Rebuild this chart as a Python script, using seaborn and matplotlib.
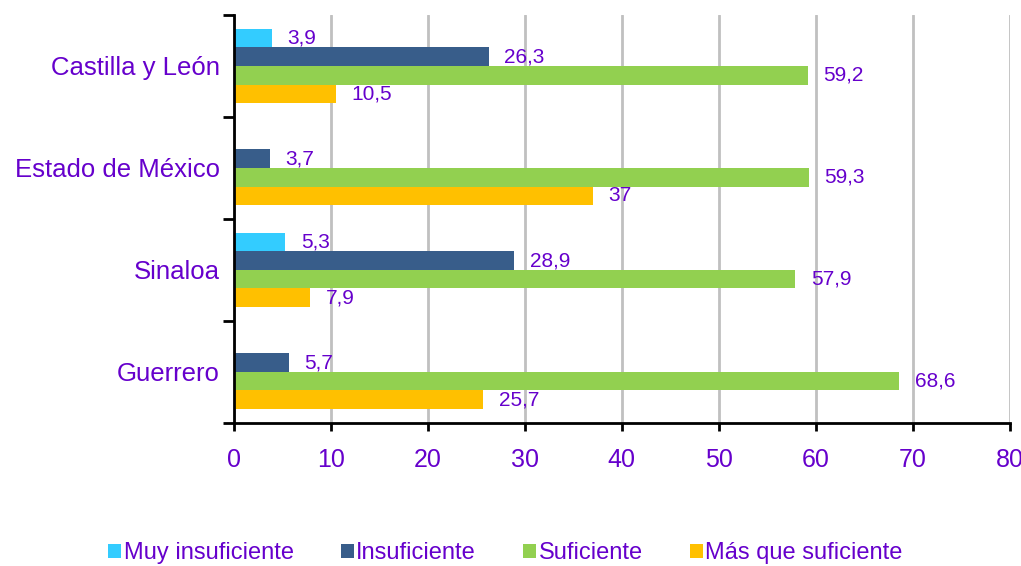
import numpy as np
import pandas as pd
import matplotlib
matplotlib.use("Agg")
import matplotlib.pyplot as plt
import seaborn as sns

# Datos
regiones = ["Castilla y León", "Estado de México", "Sinaloa", "Guerrero"]
series = ["Muy insuficiente", "Insuficiente", "Suficiente", "Más que suficiente"]
muy_insuficiente = [3.9, np.nan, 5.3, np.nan]
insuficiente = [26.3, 3.7, 28.9, 5.7]
suficiente = [59.2, 59.3, 57.9, 68.6]
mas_que_suficiente = [10.5, 37, 7.9, 25.7]
colores = ["#33CCFF", "#385D8A", "#92D050", "#FFC000"]
texto = "#6600CC"

df = pd.DataFrame({
    "region": regiones * 4,
    "serie": [s for s in series for _ in regiones],
    "valor": muy_insuficiente + insuficiente + suficiente + mas_que_suficiente,
})

sns.set_style("white")
plt.rcParams["font.family"] = ["Liberation Sans", "DejaVu Sans"]

fig = plt.figure(figsize=(10.21, 5.66), dpi=100)
ax = fig.add_axes([0.229, 0.253, 0.76, 0.7205])

sns.barplot(data=df, y="region", x="valor", hue="serie", order=regiones,
            hue_order=series, palette=colores, orient="h", width=0.73,
            saturation=1, linewidth=0, ax=ax, legend=True)

# Etiquetas de valores
for cont in ax.containers:
    for barra in cont:
        w = barra.get_width()
        if np.isnan(w) or w == 0:
            continue
        etiqueta = f"{w:g}".replace(".", ",")
        ax.text(w + 1.6, barra.get_y() + barra.get_height() * 0.5, etiqueta,
                va="center", ha="left", fontsize=15, color=texto)

ax.set_xlim(0, 80)
ax.set_ylim(3.5, -0.5)
ax.set_xticks(range(0, 81, 10))
ax.set_xlabel("")
ax.set_ylabel("")
ax.xaxis.grid(True, color="#C0C0C0", linewidth=2)
ax.set_axisbelow(True)
for lado in ["top", "right"]:
    ax.spines[lado].set_visible(False)
for lado in ["left", "bottom"]:
    ax.spines[lado].set_color("black")
    ax.spines[lado].set_linewidth(2)

ax.set_yticks(np.arange(-0.5, 4, 1), minor=True)
ax.tick_params(axis="y", which="major", length=0, labelsize=18.5, labelcolor=texto, pad=10)
ax.tick_params(axis="y", which="minor", length=8, width=2, color="black", left=True)
ax.tick_params(axis="x", which="major", length=6, width=2, color="black",
               labelsize=18, labelcolor=texto, pad=12, bottom=True)

leg = ax.legend(loc="center", bbox_to_anchor=(0.35, -0.32), ncol=4,
                frameon=False, fontsize=17, handlelength=0.55, handleheight=0.55,
                handletextpad=0.1, columnspacing=2.0)
for t in leg.get_texts():
    t.set_color(texto)

fig.savefig("out.png", dpi=100)
